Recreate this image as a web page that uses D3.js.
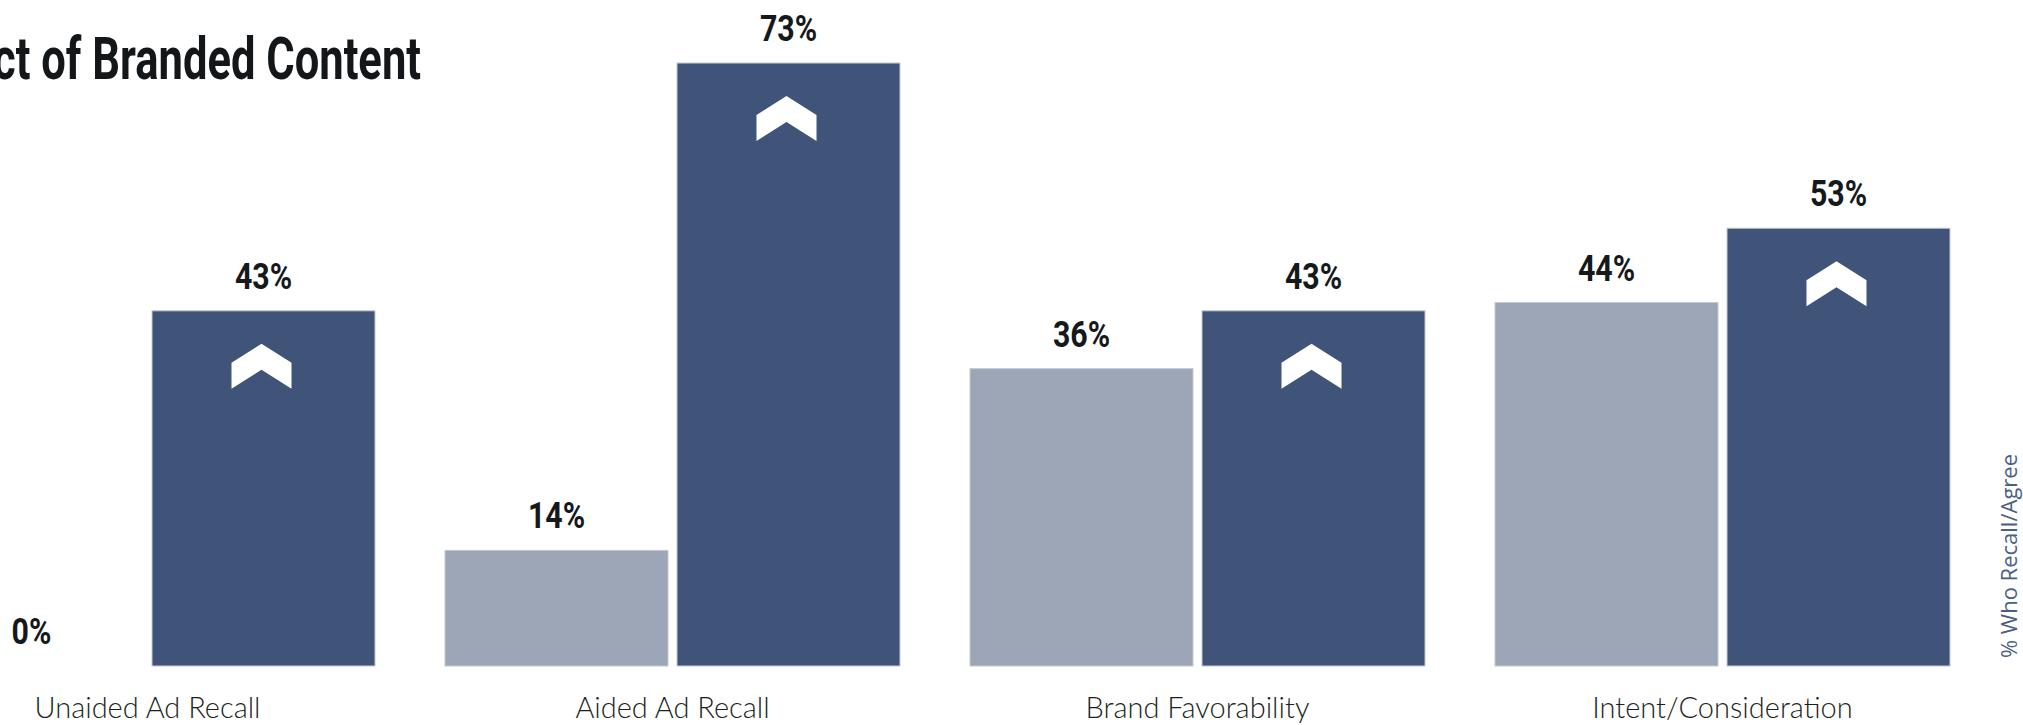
<!DOCTYPE html>
<html>
<head>
<meta charset="utf-8">
<script src="https://cdn.jsdelivr.net/npm/d3@7"></script>
<style>
  body { margin: 0; background: #fff; }
  svg { display: block; }
</style>
</head>
<body>
<div id="chart"></div>
<script>
// data
const categories = ["Unaided Ad Recall", "Aided Ad Recall", "Brand Favorability", "Intent/Consideration"];
const series = ["control", "exposed"];
const controlValues = [0, 14, 36, 44];
const exposedValues = [43, 73, 43, 53];
const title = "Impact of Branded Content";
const axisTitle = "% Who Recall/Agree";

const width = 2023, height = 725;
const baseline = 666;
const colors = { control: "#9da6b6", exposed: "#405479" };

const rows = categories.map((c, i) => ({
  category: c,
  control: controlValues[i],
  exposed: exposedValues[i]
}));

const svg = d3.select("#chart").append("svg")
  .attr("width", width)
  .attr("height", height);

// group band is wider than the page, first control bar falls off the left edge
const x0 = d3.scaleBand()
  .domain(categories)
  .range([-80, 1950])
  .paddingInner(70 / 525)
  .paddingOuter(0);

const x1 = d3.scaleBand()
  .domain(series)
  .range([0, x0.bandwidth()])
  .paddingInner(9 / 232);

const y = d3.scaleLinear()
  .domain([0, 100])
  .range([baseline, baseline - 826]);

// title, cut off on the left like the source ("Impa" sits off the page)
const titleText = svg.append("text")
  .attr("text-anchor", "end")
  .style("font-family", "Roboto, sans-serif")
  .style("font-weight", "bold")
  .style("font-size", "60px")
  .style("fill", "#14171a")
  .text(title);
const node = titleText.node();
const visible = node.getComputedTextLength() - node.getSubStringLength(0, 4);
const squash = 428 / visible;
titleText.attr("transform", `translate(421,79) scale(${squash},1)`);

const groups = svg.selectAll(".group")
  .data(rows)
  .enter().append("g")
  .attr("class", "group")
  .attr("transform", d => `translate(${x0(d.category)},0)`);

const bars = groups.selectAll(".bar")
  .data(d => series.map(k => ({ key: k, value: d[k], lift: k === "exposed" && d.exposed > d.control })))
  .enter().append("g")
  .attr("class", "bar");

bars.filter(d => d.value > 0).append("rect")
  .attr("x", d => x1(d.key))
  .attr("y", d => y(d.value))
  .attr("width", x1.bandwidth())
  .attr("height", d => y(0) - y(d.value))
  .attr("fill", d => colors[d.key])
  .attr("stroke", "#c3c9d3")
  .attr("stroke-width", 1);

bars.append("text")
  .attr("transform", d => `translate(${x1(d.key) + x1.bandwidth() / 2},${y(d.value) - 22}) scale(0.82,1)`)
  .attr("text-anchor", "middle")
  .style("font-family", "Roboto, sans-serif")
  .style("font-weight", "bold")
  .style("font-size", "37px")
  .style("fill", "#16191c")
  .text(d => d.value + "%");

// white up chevron on the bars that went up
const chevron = "M0,0 L30,19 L30,45 L0,26 L-30,45 L-30,19 Z";
bars.filter(d => d.lift).append("path")
  .attr("d", chevron)
  .attr("transform", d => `translate(${x1(d.key) + x1.bandwidth() / 2 - 2},${y(d.value) + 33})`)
  .attr("fill", "#fff");

groups.append("text")
  .attr("x", x0.bandwidth() / 2)
  .attr("y", 718)
  .attr("text-anchor", "middle")
  .style("font-family", "Lato, sans-serif")
  .style("font-weight", 300)
  .style("font-size", "29px")
  .style("fill", "#1c1f22")
  .text(d => d.category);

svg.append("text")
  .attr("transform", "translate(2017,556) rotate(-90)")
  .attr("text-anchor", "middle")
  .style("font-family", "'Open Sans', sans-serif")
  .style("font-size", "22px")
  .style("fill", "#4b5f86")
  .text(axisTitle);
</script>
</body>
</html>
